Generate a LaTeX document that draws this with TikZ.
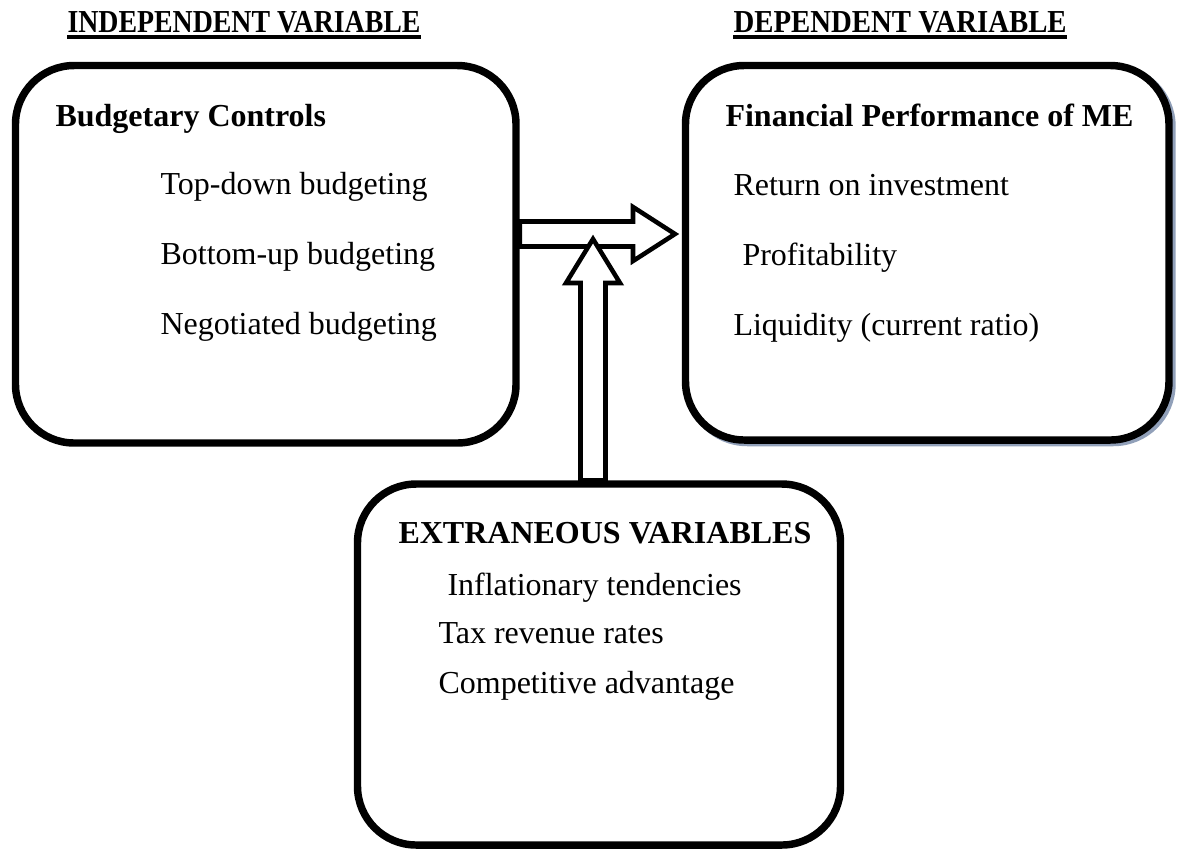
\documentclass[tikz,border=0pt]{standalone}
\usepackage{fontspec}
\setmainfont{Liberation Serif}
\usetikzlibrary{calc}
\definecolor{shadowcol}{RGB}{145,160,185}
\begin{document}
\begin{tikzpicture}[x=0.375pt,y=-0.375pt,
  box/.style={draw, line width=2.8pt, rounded corners=22pt, fill=white, inner sep=0pt},
  blockarrow/.style={draw, line width=1.7pt, fill=white, line join=miter},
  txt/.style={anchor=base west, inner sep=0pt, font=\fontsize{12}{14}\selectfont},
  bold/.style={txt, font=\fontsize{12}{14}\selectfont\bfseries},
  hdr/.style={anchor=base west, inner sep=0pt, font=\fontsize{12}{14}\selectfont\bfseries},
  uline/.style={line width=1.5pt}]
\useasboundingbox (0,0) rectangle (1178,849);

% boxes
\node[box, draw=shadowcol, fill=shadowcol, minimum width=181.31pt, minimum height=140.44pt] (Rs) at (930.25,255.25) {};
\node[box, minimum width=187.69pt, minimum height=141.56pt] (L) at (265.75,254.25) {};
\node[box, minimum width=181.31pt, minimum height=140.44pt] (R) at (927.25,252.75) {};
\node[box, minimum width=181.125pt, minimum height=135.375pt] (B) at (599,664.5) {};

% headers
\node[hdr] (hI) at (67,32) {\scalebox{0.87}[1]{INDEPENDENT VARIABLE}};
\node[hdr] (hD) at (733,32) {\scalebox{0.9}[1]{DEPENDENT VARIABLE}};
\draw[uline] ([yshift=-1.9pt]hI.base west) -- ([yshift=-1.9pt]hI.base east);
\draw[uline] ([yshift=-1.9pt]hD.base west) -- ([yshift=-1.9pt]hD.base east);

% left box text
\node[bold] (l0) at (55,126) {Budgetary Controls};
\node[txt] (l1) at (160,194) {Top-down budgeting};
\node[txt] (l2) at (160,264) {Bottom-up budgeting};
\node[txt] (l3) at (160,334) {Negotiated budgeting};

% right box text
\node[bold] (r0) at (725,126) {Financial Performance of ME};
\node[txt] (r1) at (733,195) {Return on investment};
\node[txt] (r2) at (742,265) {Profitability};
\node[txt] (r3) at (733,335) {Liquidity (current ratio)};

% bottom box text
\node[bold] (b0) at (398,543) {EXTRANEOUS VARIABLES};
\node[txt] (b1) at (447,595) {Inflationary tendencies};
\node[txt] (b2) at (438,643) {Tax revenue rates};
\node[txt] (b3) at (438,693) {Competitive advantage};

% horizontal block arrow from L to R
\coordinate (hy) at (0,234);
\coordinate (hs) at (L.east |- hy);
\draw[blockarrow] ($(hs)+(0,-12.5)$) -- (633,221.5) -- (633,207) -- (675,234)
  -- (633,261) -- (633,246.5) -- ($(hs)+(0,12.5)$) -- cycle;

% vertical block arrow from B upward
\coordinate (vx) at (593,0);
\coordinate (vs) at (B.north -| vx);
\draw[blockarrow] ($(vs)+(-12.5,0)$) -- (580.5,283) -- (566,283) -- (593,239)
  -- (620,283) -- (605.5,283) -- ($(vs)+(12.5,0)$) -- cycle;
\end{tikzpicture}
\end{document}
